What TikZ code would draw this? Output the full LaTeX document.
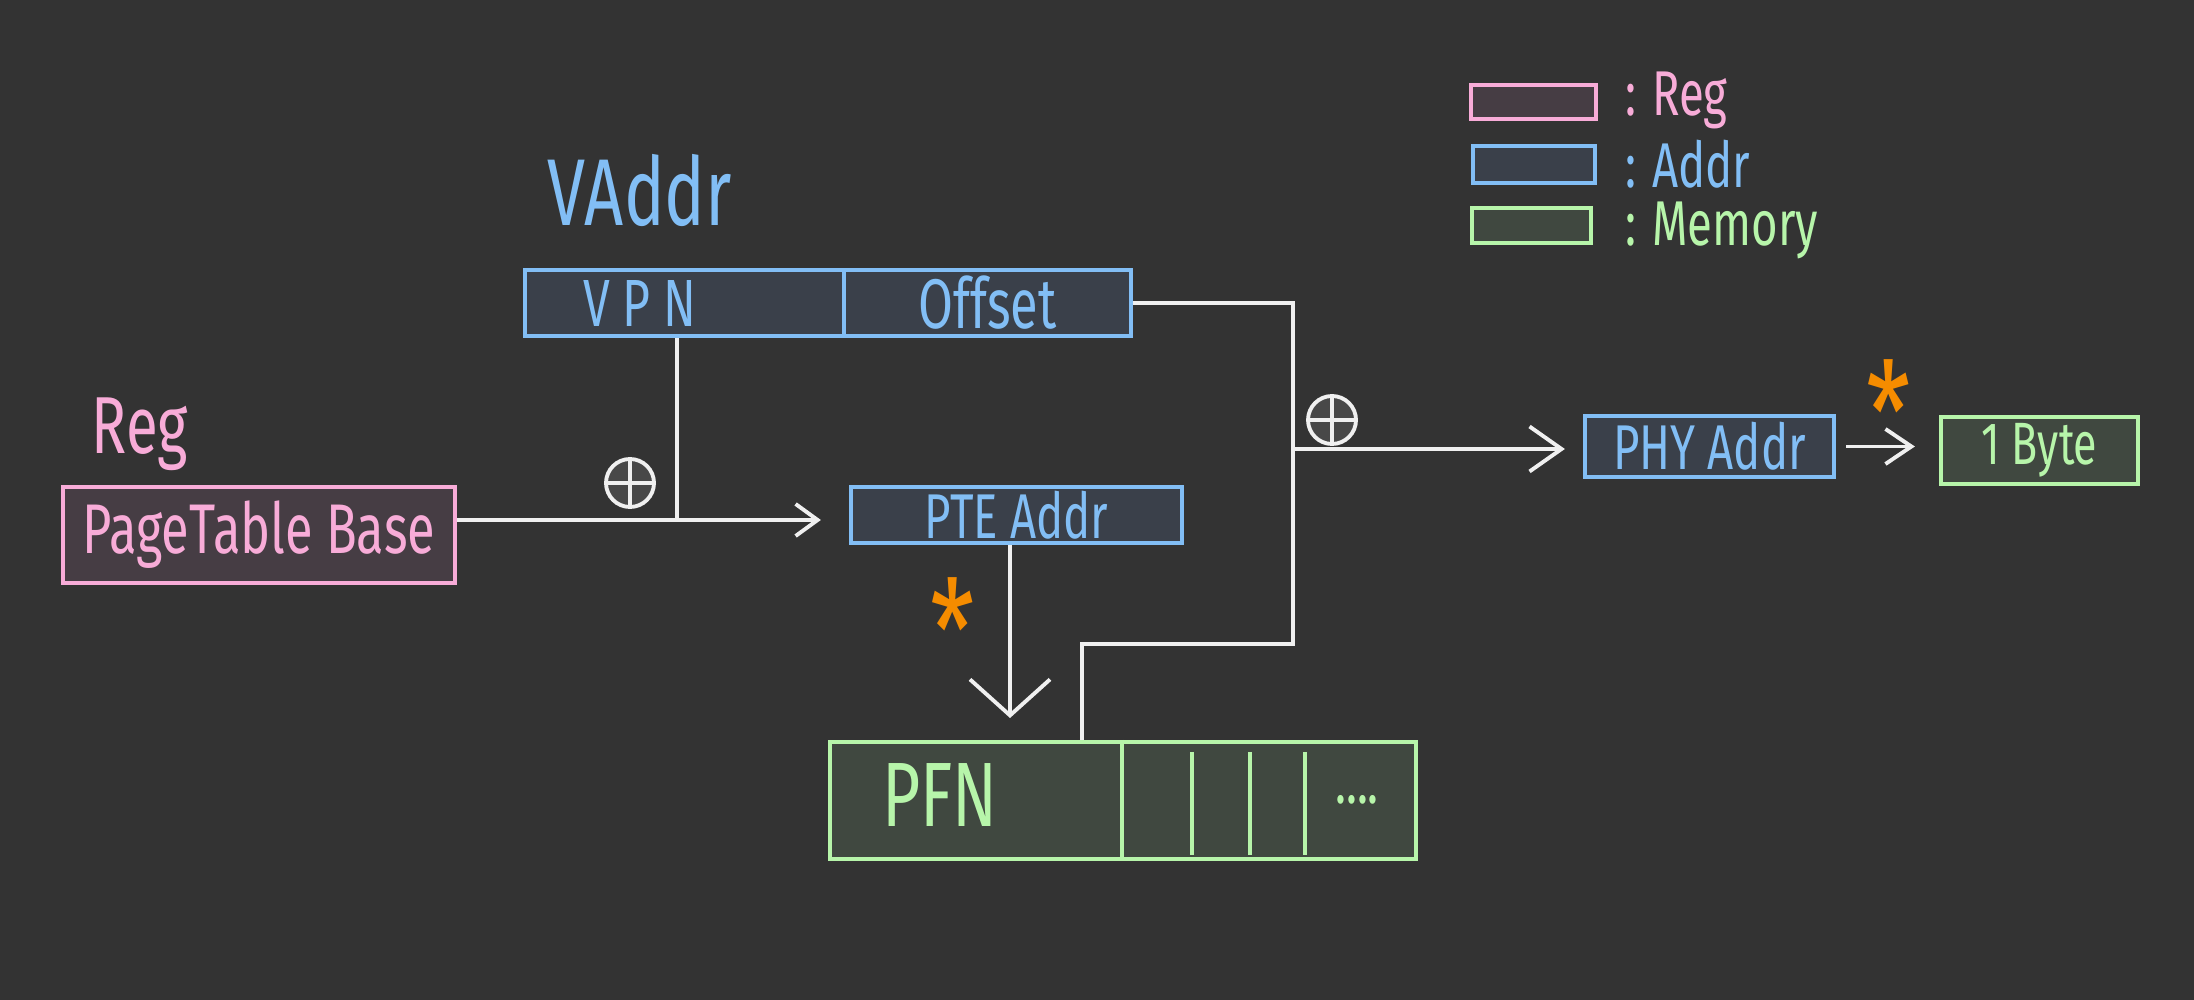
\documentclass[tikz,border=0pt]{standalone}
\usepackage{fontspec}
\setmainfont{Fira Sans}[FakeStretch=0.72]
\usetikzlibrary{arrows.meta}

\definecolor{bgcol}{RGB}{51,51,51}
\definecolor{regline}{RGB}{248,172,216}
\definecolor{regfill}{RGB}{70,61,68}
\definecolor{addrline}{RGB}{130,190,245}
\definecolor{addrfill}{RGB}{58,64,74}
\definecolor{memline}{RGB}{183,245,170}
\definecolor{memfill}{RGB}{64,72,64}
\definecolor{starcol}{RGB}{245,140,0}
\definecolor{wirecol}{RGB}{240,240,240}
\definecolor{xorfill}{RGB}{72,72,72}

\newcommand{\fsz}[1]{\fontsize{#1}{#1}\selectfont}

\begin{document}
\begin{tikzpicture}[
                regbox/.style={draw=regline, fill=regfill, line width=1.2pt, inner sep=0pt, text=regline},
                addrbox/.style={draw=addrline, fill=addrfill, line width=1.2pt, inner sep=0pt, text=addrline},
                membox/.style={draw=memline, fill=memfill, line width=1.2pt, inner sep=0pt, text=memline},
                wire/.style={draw=wirecol, line width=1.1pt},
                xorsym/.style={circle, draw=wirecol, fill=xorfill, line width=1.1pt, minimum size=0.48cm, inner sep=0pt,
                    path picture={\draw[wirecol, line width=1.1pt]
                        (path picture bounding box.north) -- (path picture bounding box.south)
                        (path picture bounding box.west) -- (path picture bounding box.east);}},
                deref/.style={text=starcol, font=\fsz{40}, inner sep=0pt}
            ]

                % Background and page size
                \fill[bgcol] (0,0) rectangle (21.94,-10);
                \useasboundingbox (0,0) rectangle (21.94,-10);

                % Legend in the top right corner
                \node[regbox, minimum width=1.25cm, minimum height=0.34cm] (legreg) at (15.335,-1.02) {};
                \node[regbox, draw=none, fill=none, anchor=west, font=\fsz{18}] (legregtxt) at (16.23,-1.0) {: Reg};
                \node[addrbox, minimum width=1.22cm, minimum height=0.37cm] (legaddr) at (15.34,-1.645) {};
                \node[addrbox, draw=none, fill=none, anchor=west, font=\fsz{18}] (legaddrtxt) at (16.23,-1.64) {: Addr};
                \node[membox, minimum width=1.19cm, minimum height=0.35cm] (legmem) at (15.315,-2.255) {};
                \node[membox, draw=none, fill=none, anchor=west, font=\fsz{18}] (legmemtxt) at (16.23,-2.30) {: Memory};

                % Virtual address split in VPN and offset
                \node[addrbox, draw=none, fill=none, font=\fsz{27}] (vaddrlbl) at (6.40,-1.90) {VAddr};
                \node[addrbox, minimum width=3.19cm, minimum height=0.66cm] (vpn) at (6.845,-3.03) {};
                \node[addrbox, draw=none, fill=none, font=\fsz{19}] (vpntxt) at (6.40,-3.04) {V P N};
                \node[addrbox, minimum width=2.87cm, minimum height=0.66cm, font=\fsz{20}] (offset) at (9.875,-3.03) {Offset};

                % Page table base register
                \node[regbox, draw=none, fill=none, font=\fsz{23}] (reglbl) at (1.40,-4.34) {Reg};
                \node[regbox, minimum width=3.92cm, minimum height=0.96cm, font=\fsz{20}] (ptb) at (2.59,-5.35) {PageTable Base};

                % Address of the page table entry
                \node[addrbox, minimum width=3.31cm, minimum height=0.56cm, font=\fsz{18}] (pte) at (10.165,-5.15) {PTE Addr};

                % Page table entry in memory
                \node[membox, minimum width=5.86cm, minimum height=1.17cm] (pfn) at (11.23,-8.005) {};
                \node[membox, draw=none, fill=none, font=\fsz{26}] (pfntxt) at (9.40,-7.95) {PFN};
                \node[membox, draw=none, fill=none, font=\fsz{18}] (pfndots) at (13.57,-8.00) {....};
                \coordinate (pfndiv) at (11.22,-8);
                \draw[memline, line width=1.2pt] (pfn.north -| pfndiv) -- (pfn.south -| pfndiv);
                \foreach \xx in {11.92,12.50,13.05}
                    \draw[memline, line width=1.2pt] (\xx,-7.52) -- (\xx,-8.55);

                % Physical address and the byte it points to
                \node[addrbox, minimum width=2.49cm, minimum height=0.61cm, font=\fsz{18}] (phy) at (17.095,-4.465) {PHY Addr};
                \node[membox, minimum width=1.97cm, minimum height=0.67cm, font=\fsz{17}] (byte) at (20.395,-4.505) {1 Byte};

                % Adders and dereference marks
                \node[xorsym] (add1) at (6.30,-4.83) {};
                \node[xorsym] (add2) at (13.32,-4.20) {};
                \node[deref] (star1) at (9.53,-6.30) {*};
                \node[deref] (star2) at (18.89,-4.12) {*};

                % Base plus VPN gives the PTE address
                \coordinate (jct1) at (6.77,-5.20);
                \draw[wire] (vpn.south -| jct1) -- (jct1);
                \draw[wire, -{Straight Barb[length=0.22cm, width=0.32cm]}, shorten >=0.28cm]
                    (ptb.east |- jct1) -- (pte.west |- jct1);

                % Dereference of the PTE address
                \coordinate (pfnhit) at (10.10,-7.18);
                \draw[wire, -{Straight Barb[length=0.36cm, width=0.8cm]}] (pte.south -| pfnhit) -- (pfnhit);

                % Offset and PFN go to the second adder
                \coordinate (bend1) at (12.93,-3.03);
                \coordinate (bend2) at (12.93,-6.44);
                \coordinate (bend3) at (10.82,-6.44);
                \draw[wire] (offset.east) -- (bend1) -- (bend2) -- (bend3) -- (bend3 |- pfn.north);

                % PFN plus offset gives the physical address
                \coordinate (jct2) at (12.93,-4.49);
                \draw[wire, -{Straight Barb[length=0.32cm, width=0.45cm]}, shorten >=0.18cm]
                    (jct2) -- (phy.west |- jct2);
                \draw[wire, -{Straight Barb[length=0.26cm, width=0.35cm]}, shorten <=0.1cm, shorten >=0.24cm]
                    (phy.east) -- (byte.west |- phy.east);

            \end{tikzpicture}
\end{document}
